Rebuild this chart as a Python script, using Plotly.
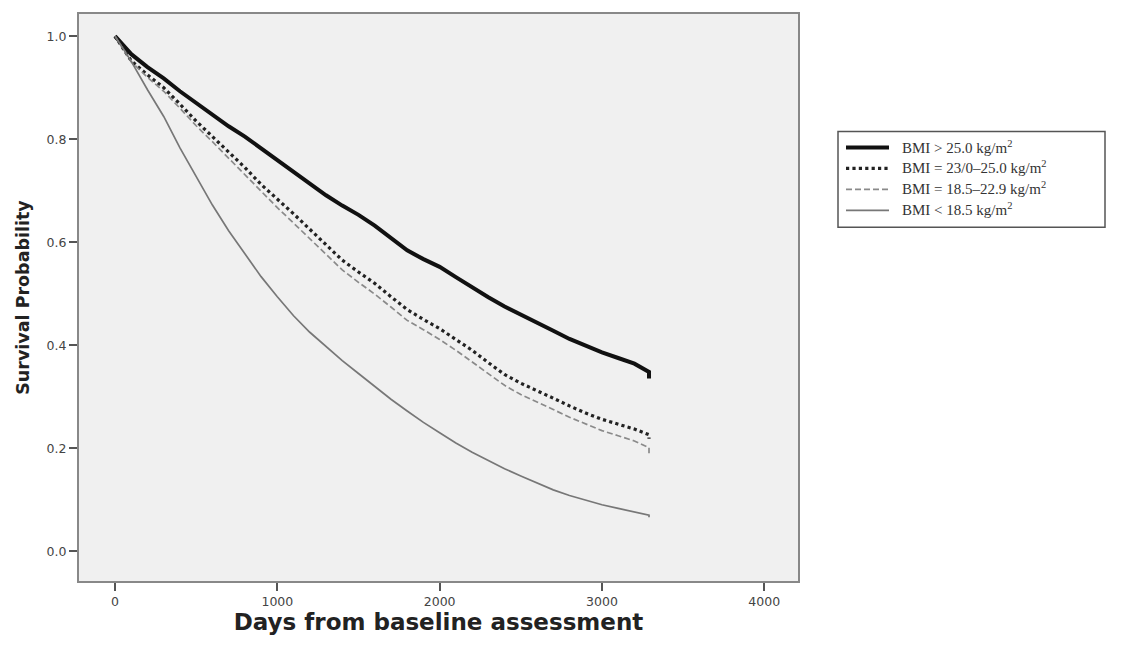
import plotly.graph_objects as go

days = [0, 100, 200, 300, 400, 500, 600, 700, 800, 900, 1000, 1100, 1200, 1300, 1400, 1500,
        1600, 1700, 1800, 1900, 2000, 2100, 2200, 2300, 2400, 2500, 2600, 2700, 2800, 2900,
        3000, 3100, 3200, 3290, 3290]

s_over25 = [1.0, 0.965, 0.94, 0.918, 0.893, 0.870, 0.848, 0.825, 0.805, 0.782, 0.760, 0.735,
            0.712, 0.691, 0.671, 0.653, 0.632, 0.607, 0.584, 0.567, 0.552, 0.532, 0.512, 0.493,
            0.475, 0.460, 0.444, 0.428, 0.412, 0.398, 0.386, 0.375, 0.364, 0.348, 0.335]

s_23_25 = [1.0, 0.952, 0.925, 0.900, 0.868, 0.835, 0.805, 0.775, 0.745, 0.712, 0.684, 0.655,
           0.625, 0.595, 0.565, 0.542, 0.520, 0.494, 0.469, 0.450, 0.432, 0.411, 0.390, 0.366,
           0.343, 0.326, 0.312, 0.297, 0.282, 0.268, 0.256, 0.246, 0.237, 0.226, 0.218]

s_185_229 = [1.0, 0.950, 0.920, 0.893, 0.860, 0.826, 0.795, 0.763, 0.730, 0.698, 0.667, 0.637,
             0.607, 0.576, 0.546, 0.522, 0.499, 0.474, 0.448, 0.430, 0.411, 0.390, 0.367, 0.344,
             0.322, 0.304, 0.290, 0.275, 0.260, 0.247, 0.234, 0.224, 0.214, 0.201, 0.190]

s_under185 = [1.0, 0.951, 0.896, 0.844, 0.783, 0.726, 0.672, 0.622, 0.577, 0.533, 0.494, 0.457,
              0.425, 0.397, 0.370, 0.345, 0.320, 0.295, 0.272, 0.250, 0.230, 0.210, 0.192, 0.176,
              0.160, 0.146, 0.132, 0.119, 0.108, 0.099, 0.090, 0.083, 0.076, 0.070, 0.066]

names = ["BMI > 25.0 kg/m<sup>2</sup>", "BMI = 23/0\u201325.0 kg/m<sup>2</sup>",
         "BMI = 18.5\u201322.9 kg/m<sup>2</sup>", "BMI < 18.5 kg/m<sup>2</sup>"]

x_ticks = [0, 1000, 2000, 3000, 4000]
y_ticks = [0.0, 0.2, 0.4, 0.6, 0.8, 1.0]

series = [s_over25, s_23_25, s_185_229, s_under185]
line_styles = [
    dict(color="#111111", width=4),
    dict(color="#222222", width=3.2, dash="dot"),
    dict(color="#8a8a8a", width=1.7, dash="6px,3px"),
    dict(color="#777777", width=1.7),
]

fig = go.Figure()
for name, s, ls in zip(names, series, line_styles):
    fig.add_trace(go.Scatter(x=days, y=s, mode="lines", name=name, line=ls, showlegend=False))

# page body has an 8px margin, so figure coords = page coords - 8
OFF = 8
W, H = 1129 - OFF, 648 - OFF
L, R, T, B = 79, 798, 12, 581  # plot frame in page pixels
ml, mr, mt, mb = L - OFF, W - (R - OFF), T - OFF, H - (B - OFF)
pw, ph = W - ml - mr, H - mt - mb

def px_x(p):
    return (p - OFF - ml) / pw

def px_y(p):
    return 1 - (p - OFF - mt) / ph

# legend box
fig.add_shape(type="rect", xref="paper", yref="paper",
              x0=px_x(838), x1=px_x(1105), y0=px_y(226), y1=px_y(130),
              line=dict(color="#555555", width=1.5), fillcolor="white", layer="below")

row_y = [146, 167, 188, 209]
for name, ls, ry in zip(names, line_styles, row_y):
    fig.add_shape(type="line", xref="paper", yref="paper",
                  x0=px_x(846), x1=px_x(889), y0=px_y(ry), y1=px_y(ry),
                  line=ls)
    fig.add_annotation(xref="paper", yref="paper", x=px_x(900), y=px_y(ry - 1),
                       xanchor="left", yanchor="middle", showarrow=False, text=name,
                       font=dict(family="Liberation Serif", size=15, color="#333333"))

tickfont = dict(family="DejaVu Sans", size=12.5, color="#444444")

fig.update_layout(
    width=W, height=H,
    margin=dict(l=ml, r=mr, t=mt, b=mb),
    paper_bgcolor="white",
    plot_bgcolor="#f0f0f0",
    showlegend=False,
    xaxis=dict(range=[-222, 4208], tickvals=x_ticks, ticktext=[str(v) for v in x_ticks],
               showgrid=False, zeroline=False, ticks="outside", ticklen=8, tickwidth=1.5,
               tickcolor="#555555", showline=True, linecolor="#888888", linewidth=2, mirror=True,
               tickfont=tickfont,
               title=dict(text="<b>Days from baseline assessment</b>",
                          font=dict(family="DejaVu Sans", size=23, color="#222222"), standoff=5)),
    yaxis=dict(range=[-0.058, 1.043], tickvals=y_ticks, ticktext=[f"{v:.1f}" for v in y_ticks],
               showgrid=False, zeroline=False, ticks="outside", ticklen=8, tickwidth=1.5,
               tickcolor="#555555", showline=True, linecolor="#888888", linewidth=2, mirror=True,
               tickfont=tickfont,
               title=dict(text="<b>Survival Probability</b>",
                          font=dict(family="DejaVu Sans", size=17.5, color="#222222"), standoff=12)),
)

fig.write_html("out.html")
